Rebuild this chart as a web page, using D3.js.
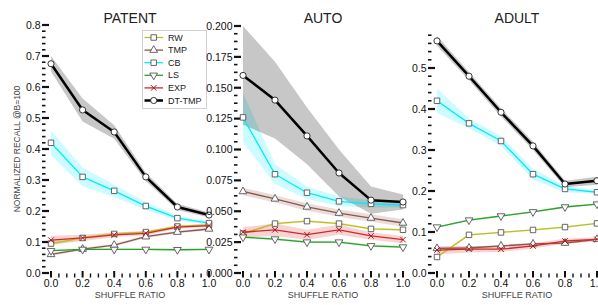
<!DOCTYPE html>
<html><head><meta charset="utf-8">
<script src="https://cdn.jsdelivr.net/npm/d3@7"></script>
<style>body{margin:0;background:#fff}svg{display:block;font-family:"Liberation Sans",Arial,sans-serif}</style>
</head><body><svg id="c" width="598" height="305"></svg>
<script>
// ---------- data ----------
const shuffleRatio = [0.0, 0.2, 0.4, 0.6, 0.8, 1.0];
const methods = ["RW", "TMP", "CB", "LS", "EXP", "DT-TMP"];
const xTickValues = [0.0, 0.2, 0.4, 0.6, 0.8, 1.0];

// PATENT
const patentRW   = [0.095, 0.113, 0.126, 0.132, 0.150, 0.155];
const patentTMP  = [0.060, 0.077, 0.090, 0.117, 0.132, 0.142];
const patentCB   = [0.420, 0.310, 0.265, 0.216, 0.177, 0.161];
const patentLS   = [0.072, 0.076, 0.076, 0.076, 0.075, 0.076];
const patentEXP  = [0.106, 0.113, 0.123, 0.128, 0.148, 0.153];
const patentDT   = [0.675, 0.526, 0.455, 0.310, 0.213, 0.187];
const patentRWErr  = [0.007, 0.006, 0.005, 0.005, 0.005, 0.005];
const patentTMPErr = [0.004, 0.004, 0.004, 0.004, 0.004, 0.004];
const patentCBErr  = [0.040, 0.030, 0.020, 0.013, 0.008, 0.005];
const patentLSErr  = [0.003, 0.003, 0.003, 0.003, 0.003, 0.003];
const patentEXPErr = [0.014, 0.010, 0.008, 0.006, 0.005, 0.004];
const patentDTErr  = [0.025, 0.037, 0.022, 0.013, 0.010, 0.008];

// AUTO
const autoRW   = [0.032, 0.040, 0.042, 0.040, 0.0357, 0.035];
const autoTMP  = [0.066, 0.060, 0.0535, 0.0485, 0.0445, 0.0405];
const autoCB   = [0.126, 0.080, 0.065, 0.058, 0.056, 0.055];
const autoLS   = [0.029, 0.0275, 0.025, 0.025, 0.022, 0.021];
const autoEXP  = [0.033, 0.035, 0.031, 0.035, 0.030, 0.027];
const autoDT   = [0.160, 0.140, 0.111, 0.081, 0.059, 0.0575];
const autoRWErr  = [0.001, 0.001, 0.001, 0.001, 0.001, 0.001];
const autoTMPErr = [0.003, 0.003, 0.003, 0.003, 0.003, 0.003];
const autoCBErr  = [0.020, 0.008, 0.005, 0.004, 0.003, 0.002];
const autoLSErr  = [0.001, 0.001, 0.001, 0.001, 0.001, 0.001];
const autoEXPErr = [0.004, 0.005, 0.004, 0.004, 0.003, 0.003];
const autoDTErr  = [0.040, 0.031, 0.023, 0.019, 0.011, 0.006];

// ADULT
const adultRW   = [0.039, 0.093, 0.099, 0.105, 0.112, 0.121];
const adultTMP  = [0.060, 0.061, 0.066, 0.071, 0.073, 0.082];
const adultCB   = [0.420, 0.365, 0.322, 0.241, 0.205, 0.197];
const adultLS   = [0.112, 0.129, 0.139, 0.149, 0.161, 0.168];
const adultEXP  = [0.056, 0.058, 0.058, 0.066, 0.078, 0.082];
const adultDT   = [0.566, 0.480, 0.392, 0.310, 0.217, 0.225];
const adultRWErr  = [0.002, 0.002, 0.002, 0.002, 0.002, 0.002];
const adultTMPErr = [0.003, 0.003, 0.003, 0.003, 0.003, 0.003];
const adultCBErr  = [0.030, 0.012, 0.012, 0.013, 0.008, 0.004];
const adultLSErr  = [0.002, 0.002, 0.002, 0.002, 0.002, 0.002];
const adultEXPErr = [0.010, 0.008, 0.007, 0.006, 0.006, 0.005];
const adultDTErr  = [0.012, 0.010, 0.010, 0.010, 0.008, 0.010];

const patentTicks = [0.0, 0.1, 0.2, 0.3, 0.4, 0.5, 0.6, 0.7, 0.8];
const autoTicks   = [0.000, 0.025, 0.050, 0.075, 0.100, 0.125, 0.150, 0.175, 0.200];
const adultTicks  = [0.0, 0.1, 0.2, 0.3, 0.4, 0.5];

// ---------- styles / layout ----------
const style = {
  "RW":     {color: "#bcbd22", band: "#bcbd22", w: 1.3, sym: "square"},
  "TMP":    {color: "#8c564b", band: "#8c564b", w: 1.3, sym: "tri"},
  "CB":     {color: "#00eaff", band: "#00eeff", w: 1.3, sym: "square"},
  "LS":     {color: "#2ca02c", band: "#2ca02c", w: 1.3, sym: "triDown"},
  "EXP":    {color: "#d62728", band: "#d62728", w: 1.3, sym: "x"},
  "DT-TMP": {color: "#000000", band: "#000000", w: 2.5, sym: "circle"}
};
const bandOpacity = {"RW":0.2,"TMP":0.2,"CB":0.2,"LS":0.2,"EXP":0.2,"DT-TMP":0.22};

const panels = [
  {title: "PATENT", x0: 51, x1: 209, yTop: 25, yMax: 0.8, ticks: patentTicks, fmt: d3.format(".1f"), minor: 0.02,
   means: [patentRW, patentTMP, patentCB, patentLS, patentEXP, patentDT],
   errs: [patentRWErr, patentTMPErr, patentCBErr, patentLSErr, patentEXPErr, patentDTErr], legend: true},
  {title: "AUTO", x0: 243, x1: 403, yTop: 26, yMax: 0.2, ticks: autoTicks, fmt: d3.format(".3f"), minor: 0.00625,
   means: [autoRW, autoTMP, autoCB, autoLS, autoEXP, autoDT],
   errs: [autoRWErr, autoTMPErr, autoCBErr, autoLSErr, autoEXPErr, autoDTErr]},
  {title: "ADULT", x0: 437, x1: 597, yTop: 273 - 0.585 * 410, yMax: 0.585, ticks: adultTicks, fmt: d3.format(".1f"), minor: 0.02,
   means: [adultRW, adultTMP, adultCB, adultLS, adultEXP, adultDT],
   errs: [adultRWErr, adultTMPErr, adultCBErr, adultLSErr, adultEXPErr, adultDTErr]}
];
const yBottom = 273;

const svg = d3.select("#c");

function symbolPath(kind) {
  if (kind === "square") return d3.symbol(d3.symbolSquare, 30)();
  if (kind === "tri" || kind === "triDown") return d3.symbol(d3.symbolTriangle, 26)();
  if (kind === "circle") return d3.symbol(d3.symbolCircle, 30)();
  if (kind === "x") return d3.symbol(d3.symbolX, 22)();
}
function drawMarker(g, kind, color, x, y) {
  const p = g.append("path").attr("d", symbolPath(kind))
    .attr("transform", `translate(${x},${y})` + (kind === "triDown" ? " rotate(180)" : ""));
  if (kind === "x") {
    p.attr("fill", "none").attr("stroke", d3.color(color).darker(0.8)).attr("stroke-width", 1);
  } else {
    p.attr("fill", "#fff").attr("stroke", kind === "circle" ? "#222" : "#555").attr("stroke-width", 0.9);
  }
}

panels.forEach(P => {
  const x = d3.scaleLinear().domain([0, 1]).range([P.x0, P.x1]);
  const y = d3.scaleLinear().domain([0, P.yMax]).range([yBottom, P.yTop]);
  const g = svg.append("g");

  // y ticks (minor + major), outer ends aligned
  const minorVals = d3.range(0, P.yMax + 1e-9, P.minor).filter(v => !P.ticks.some(t => Math.abs(t - v) < 1e-6));
  g.selectAll(".ymin").data(minorVals).join("line")
    .attr("x1", P.x0 - 9).attr("x2", P.x0 - 5.5)
    .attr("y1", d => y(d)).attr("y2", d => y(d))
    .attr("stroke", "#111").attr("stroke-width", 1.6);
  g.selectAll(".ymaj").data(P.ticks).join("line")
    .attr("x1", P.x0 - 9).attr("x2", P.x0 - 2)
    .attr("y1", d => y(d)).attr("y2", d => y(d))
    .attr("stroke", "#111").attr("stroke-width", 2.2);
  g.selectAll(".ylab").data(P.ticks).join("text")
    .attr("x", P.x0 - 10.5).attr("y", d => y(d)).attr("dy", "0.36em")
    .attr("text-anchor", "end").attr("font-size", 10.5).attr("fill", "#111")
    .text(d => P.fmt(d));

  // x ticks
  const xMinor = d3.range(0, 1.0001, 0.05).filter(v => !xTickValues.some(t => Math.abs(t - v) < 1e-6));
  g.selectAll(".xmin").data(xMinor).join("line")
    .attr("x1", d => x(d)).attr("x2", d => x(d))
    .attr("y1", yBottom + 0.5).attr("y2", yBottom + 4.5)
    .attr("stroke", "#111").attr("stroke-width", 1.4);
  g.selectAll(".xmaj").data(xTickValues).join("line")
    .attr("x1", d => x(d)).attr("x2", d => x(d))
    .attr("y1", yBottom - 2).attr("y2", yBottom + 4.5)
    .attr("stroke", "#111").attr("stroke-width", 2);
  g.selectAll(".xlab").data(xTickValues).join("text")
    .attr("x", d => x(d)).attr("y", 286.5)
    .attr("text-anchor", "middle").attr("font-size", 10.5).attr("fill", "#111")
    .text(d => d3.format(".1f")(d));

  g.append("text").attr("x", (P.x0 + P.x1) / 2).attr("y", 298)
    .attr("text-anchor", "middle").attr("font-size", 9).attr("fill", "#444").text("SHUFFLE RATIO");
  g.append("text").attr("x", (P.x0 + P.x1) / 2).attr("y", 23)
    .attr("text-anchor", "middle").attr("font-size", 14).attr("fill", "#222").text(P.title);

  // bands
  methods.forEach((m, i) => {
    const pts = shuffleRatio.map((r, k) => ({r, v: P.means[i][k], e: P.errs[i][k]}));
    const area = d3.area().x(d => x(d.r)).y0(d => y(d.v - d.e)).y1(d => y(d.v + d.e));
    g.append("path").attr("d", area(pts)).attr("fill", style[m].band).attr("fill-opacity", bandOpacity[m]);
  });
  // lines + markers
  methods.forEach((m, i) => {
    const pts = shuffleRatio.map((r, k) => ({r, v: P.means[i][k]}));
    const line = d3.line().x(d => x(d.r)).y(d => y(d.v));
    g.append("path").attr("d", line(pts)).attr("fill", "none")
      .attr("stroke", style[m].color).attr("stroke-width", style[m].w).attr("stroke-linejoin", "round");
    pts.forEach(d => drawMarker(g, style[m].sym, style[m].color, x(d.r), y(d.v)));
  });

  if (P.legend) {
    const lg = svg.append("g");
    lg.append("rect").attr("x", 142.5).attr("y", 30.5).attr("width", 64).attr("height", 78)
      .attr("fill", "#fff").attr("stroke", "#d0d0d0").attr("stroke-width", 1);
    methods.forEach((m, i) => {
      const yy = 37.5 + i * 12.6;
      lg.append("line").attr("x1", 144.5).attr("x2", 163).attr("y1", yy).attr("y2", yy)
        .attr("stroke", style[m].color).attr("stroke-width", style[m].w);
      drawMarker(lg, style[m].sym, style[m].color, 153.7, yy);
      lg.append("text").attr("x", 168).attr("y", yy).attr("dy", "0.35em")
        .attr("font-size", 9).attr("fill", "#222").text(m);
    });
  }
});

svg.append("text").attr("transform", "translate(20,149) rotate(-90)")
  .attr("text-anchor", "middle").attr("font-size", 8.5).attr("fill", "#444")
  .text("NORMALIZED RECALL @B=100");
</script></body></html>
